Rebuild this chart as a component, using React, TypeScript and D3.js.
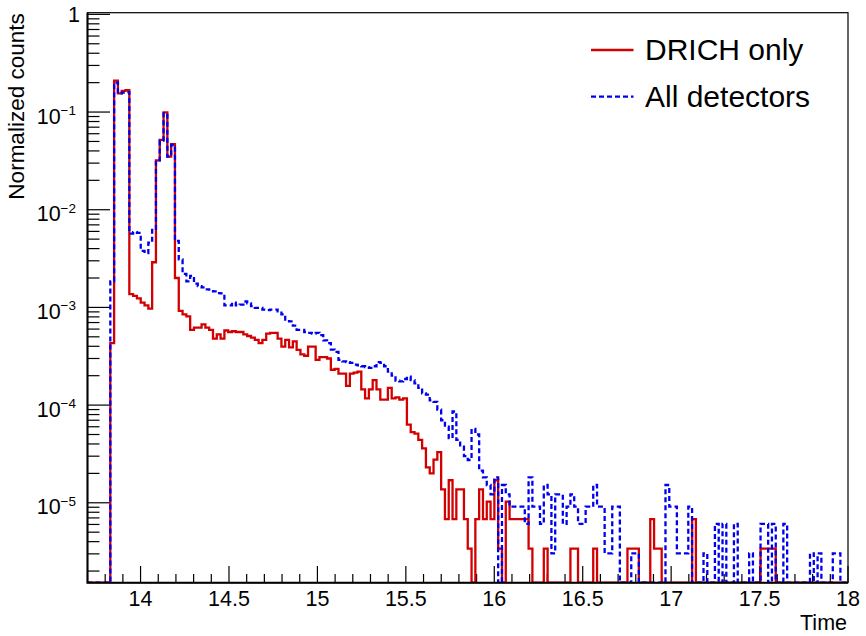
import * as d3 from "d3";
import { useEffect, useRef } from "react";

const W = 866;
const H = 636;
const frame = { left: 87.5, right: 848, top: 12.7, bottom: 582.7 };

// histogram binning (200 bins over the axis range)
const histLow = 13.7;
const histHigh = 18;
const nBins = 200;
const yLow = 1.52e-6;
const yHigh = 1.04;

const xMajorTicks = [14, 14.5, 15, 15.5, 16, 16.5, 17, 17.5, 18];
const xTickLabels = ["14", "14.5", "15", "15.5", "16", "16.5", "17", "17.5", "18"];
const yDecades = [1, 1e-1, 1e-2, 1e-3, 1e-4, 1e-5];
const yDecadeBase = ["1", "10", "10", "10", "10", "10"];
const yDecadeExp = ["", "−1", "−2", "−3", "−4", "−5"];

const seriesNames = ["DRICH only", "All detectors"];

// normalized counts per bin
const drichOnly = [
  0, 0, 0, 0, 0, 0, 4.3e-4, 0.21, 0.155, 0.165,
  0.168, 1.37e-3, 1.31e-3, 1.24e-3, 1.12e-3, 1.05e-3, 9.7e-4, 2.9e-3, 0.032, 0.052,
  0.099, 0.035, 0.047, 2.0e-3, 9.2e-4, 8.5e-4, 8.1e-4, 5.9e-4, 6.2e-4, 6.2e-4,
  6.7e-4, 6.2e-4, 5.9e-4, 4.8e-4, 5.3e-4, 4.8e-4, 5.8e-4, 5.6e-4, 5.7e-4, 5.6e-4,
  5.6e-4, 5.3e-4, 5.1e-4, 4.9e-4, 4.65e-4, 4.3e-4, 4.65e-4, 5.4e-4, 5.5e-4, 5.5e-4,
  4.8e-4, 3.96e-4, 4.65e-4, 3.9e-4, 4.5e-4, 3.67e-4, 3.3e-4, 3.2e-4, 3.96e-4, 3.96e-4,
  2.9e-4, 3.1e-4, 3.1e-4, 3.0e-4, 2.3e-4, 2.35e-4, 2.1e-4, 2.1e-4, 1.57e-4, 2.1e-4,
  2.15e-4, 2.2e-4, 1.45e-4, 1.17e-4, 1.45e-4, 1.8e-4, 1.45e-4, 1.14e-4, 1.14e-4, 1.5e-4,
  1.17e-4, 1.2e-4, 1.14e-4, 1.17e-4, 6.3e-5, 5.3e-5, 5.1e-5, 4.4e-5, 3.6e-5, 2.3e-5,
  2.0e-5, 2.76e-5, 3.3e-5, 1.37e-5, 6.8e-6, 1.7e-5, 6.8e-6, 1.37e-5, 1.37e-5, 6.8e-6,
  3.4e-6, 0, 6.8e-6, 1.37e-5, 6.8e-6, 1.03e-5, 6.8e-6, 1.7e-5, 3.4e-6, 0,
  1.03e-5, 6.8e-6, 6.8e-6, 6.8e-6, 6.8e-6, 6.8e-6, 3.4e-6, 0, 0, 0,
  3.4e-6, 0, 0, 0, 0, 0, 0, 3.4e-6, 3.4e-6, 0,
  0, 0, 0, 3.4e-6, 0, 0, 0, 0, 0, 0,
  0, 0, 3.4e-6, 3.4e-6, 3.4e-6, 0, 0, 0, 6.8e-6, 3.4e-6,
  3.4e-6, 0, 0, 0, 0, 0, 0, 0, 0, 6.8e-6,
  0, 0, 0, 0, 0, 0, 0, 0, 0, 0,
  0, 0, 0, 0, 0, 0, 0, 3.4e-6, 3.4e-6, 3.4e-6,
  3.4e-6, 0, 0, 0, 0, 0, 0, 0, 0, 0,
  0, 0, 0, 0, 0, 0, 0, 0, 0, 0,
];

const allDetectors = [
  0, 0, 0, 0, 0, 0, 1.85e-3, 0.2, 0.155, 0.158,
  0.16, 5.7e-3, 5.9e-3, 5.8e-3, 3.8e-3, 3.6e-3, 4.6e-3, 6.2e-3, 0.032, 0.051,
  0.097, 0.035, 0.046, 4.8e-3, 3.1e-3, 2.2e-3, 1.85e-3, 2.1e-3, 1.75e-3, 1.65e-3,
  1.6e-3, 1.53e-3, 1.47e-3, 1.46e-3, 1.4e-3, 1.39e-3, 1.05e-3, 1.05e-3, 1.12e-3, 1.05e-3,
  1.07e-3, 1.15e-3, 1.1e-3, 1.03e-3, 9.9e-4, 9.9e-4, 9.5e-4, 9.4e-4, 9.5e-4, 9.5e-4,
  9.1e-4, 8.5e-4, 7.5e-4, 7.2e-4, 6.5e-4, 5.9e-4, 5.9e-4, 5.6e-4, 5.5e-4, 5.4e-4,
  5.5e-4, 5.2e-4, 4.6e-4, 4.3e-4, 3.7e-4, 3.5e-4, 2.9e-4, 2.8e-4, 2.75e-4, 2.7e-4,
  2.6e-4, 2.55e-4, 2.5e-4, 2.45e-4, 2.4e-4, 2.5e-4, 2.75e-4, 2.7e-4, 2.5e-4, 2.2e-4,
  2.0e-4, 1.78e-4, 1.75e-4, 1.85e-4, 1.95e-4, 1.8e-4, 1.67e-4, 1.5e-4, 1.32e-4, 1.28e-4,
  1.12e-4, 1.08e-4, 9.0e-5, 7.0e-5, 6.0e-5, 4.6e-5, 8.6e-5, 4.4e-5, 3.75e-5, 3.0e-5,
  2.74e-5, 5.7e-5, 5.0e-5, 2.13e-5, 1.82e-5, 1.52e-5, 1.22e-5, 1.82e-5, 0, 1.52e-5,
  1.22e-5, 9.12e-6, 9.12e-6, 9.12e-6, 9.12e-6, 6.08e-6, 1.82e-5, 9.12e-6, 9.12e-6, 6.08e-6,
  1.52e-5, 1.22e-5, 3.04e-6, 1.22e-5, 1.22e-5, 6.08e-6, 9.12e-6, 1.22e-5, 9.12e-6, 6.08e-6,
  6.08e-6, 9.12e-6, 9.12e-6, 1.52e-5, 9.12e-6, 9.12e-6, 3.04e-6, 3.04e-6, 9.12e-6, 9.12e-6,
  0, 0, 0, 3.04e-6, 3.04e-6, 0, 0, 0, 0, 0,
  0, 0, 1.52e-5, 9.12e-6, 9.12e-6, 3.04e-6, 3.04e-6, 3.04e-6, 9.12e-6, 0,
  0, 0, 3.04e-6, 0, 0, 6.08e-6, 0, 6.08e-6, 0, 0,
  6.08e-6, 0, 0, 0, 3.04e-6, 0, 0, 6.08e-6, 6.08e-6, 0,
  6.08e-6, 0, 0, 6.08e-6, 0, 0, 0, 0, 0, 0,
  3.04e-6, 0, 3.04e-6, 0, 0, 0, 3.04e-6, 3.04e-6, 0, 0,
];

const FONT = "'Liberation Sans', Arial, Helvetica, sans-serif";
const RED = "#d20000";
const BLUE = "#0000f0";

const App = () => {
  const svgRef = useRef<SVGSVGElement | null>(null);

  useEffect(() => {
    const svg = d3.select(svgRef.current);
    svg.selectAll("*").remove();

    const x = d3.scaleLinear().domain([histLow, histHigh]).range([frame.left, frame.right]);
    const y = d3.scaleLog().domain([yLow, yHigh]).range([frame.bottom, frame.top]);
    const binW = (histHigh - histLow) / nBins;

    svg
      .append("rect")
      .attr("width", W)
      .attr("height", H)
      .attr("fill", "white");

    svg
      .append("clipPath")
      .attr("id", "frame-clip")
      .append("rect")
      .attr("x", frame.left)
      .attr("y", frame.top)
      .attr("width", frame.right - frame.left)
      .attr("height", frame.bottom - frame.top);

    // ---- y axis ticks (inside) ----
    const yMinor: number[] = [];
    for (let e = -6; e <= 0; e++) {
      for (let m = 2; m <= 9; m++) {
        const v = m * Math.pow(10, e);
        if (v > yLow && v < yHigh) yMinor.push(v);
      }
    }
    const axes = svg.append("g").attr("stroke", "black").attr("stroke-width", 1.2);
    axes
      .selectAll("line.ymin")
      .data(yMinor)
      .join("line")
      .attr("class", "ymin")
      .attr("x1", frame.left)
      .attr("x2", frame.left + 12)
      .attr("y1", (d) => y(d))
      .attr("y2", (d) => y(d));
    axes
      .selectAll("line.ymaj")
      .data(yDecades)
      .join("line")
      .attr("class", "ymaj")
      .attr("x1", frame.left)
      .attr("x2", frame.left + 22.5)
      .attr("y1", (d) => y(d))
      .attr("y2", (d) => y(d));

    // ---- x axis ticks (inside) ----
    const xMinor = d3
      .range(137, 181)
      .map((i) => i / 10)
      .filter((v) => !xMajorTicks.some((t) => Math.abs(t - v) < 1e-6));
    axes
      .selectAll("line.xmin")
      .data(xMinor)
      .join("line")
      .attr("class", "xmin")
      .attr("x1", (d) => x(d))
      .attr("x2", (d) => x(d))
      .attr("y1", frame.bottom)
      .attr("y2", frame.bottom - 8.7);
    axes
      .selectAll("line.xmaj")
      .data(xMajorTicks)
      .join("line")
      .attr("class", "xmaj")
      .attr("x1", (d) => x(d))
      .attr("x2", (d) => x(d))
      .attr("y1", frame.bottom)
      .attr("y2", frame.bottom - 16.7);

    // ---- histograms ----
    const stepLine = d3
      .line<[number, number]>()
      .x((d) => x(d[0]))
      .y((d) => (d[1] > 0 ? y(d[1]) : frame.bottom))
      .curve(d3.curveStepAfter);
    const toPoints = (vals: number[]): [number, number][] => {
      const pts: [number, number][] = vals.map((v, i) => [histLow + i * binW, v]);
      pts.push([histHigh, vals[vals.length - 1]]);
      return pts;
    };

    const plot = svg.append("g").attr("clip-path", "url(#frame-clip)");
    plot
      .append("path")
      .attr("d", stepLine(toPoints(drichOnly)))
      .attr("fill", "none")
      .attr("stroke", RED)
      .attr("stroke-width", 2.3)
      .attr("stroke-linejoin", "miter");
    plot
      .append("path")
      .attr("d", stepLine(toPoints(allDetectors)))
      .attr("fill", "none")
      .attr("stroke", BLUE)
      .attr("stroke-width", 2.3)
      .attr("stroke-dasharray", "5,3");

    // ---- frame ----
    svg
      .append("rect")
      .attr("x", frame.left)
      .attr("y", frame.top)
      .attr("width", frame.right - frame.left)
      .attr("height", frame.bottom - frame.top)
      .attr("fill", "none")
      .attr("stroke", "black")
      .attr("stroke-width", 1.2);
    svg
      .append("path")
      .attr("d", `M${frame.left},${frame.top}V${frame.bottom}H${frame.right}`)
      .attr("fill", "none")
      .attr("stroke", "black")
      .attr("stroke-width", 2);

    // ---- labels ----
    const labels = svg.append("g").attr("font-family", FONT).attr("fill", "black");
    labels
      .selectAll("text.xl")
      .data(xMajorTicks)
      .join("text")
      .attr("class", "xl")
      .attr("x", (d) => x(d))
      .attr("y", 606)
      .attr("text-anchor", "middle")
      .attr("font-size", 21.5)
      .text((_, i) => xTickLabels[i]);

    yDecades.forEach((v, i) => {
      const t = labels
        .append("text")
        .attr("text-anchor", "end")
        .attr("font-size", 21.5);
      if (yDecadeExp[i] === "") {
        t.attr("x", 80).attr("y", y(v) + 8).text(yDecadeBase[i]);
      } else {
        t.attr("x", 76).attr("y", y(v) + 11.5);
        t.append("tspan").text(yDecadeBase[i]);
        t.append("tspan").attr("font-size", 13.5).attr("dy", -8.5).text(yDecadeExp[i]);
      }
    });

    labels
      .append("text")
      .attr("transform", `translate(24,${frame.top + 0.6}) rotate(-90)`)
      .attr("text-anchor", "end")
      .attr("font-size", 22.5)
      .text("Normalized counts");

    labels
      .append("text")
      .attr("x", 847)
      .attr("y", 630)
      .attr("text-anchor", "end")
      .attr("font-size", 21.5)
      .text("Time");

    // ---- legend ----
    const legend = svg.append("g");
    const entries = [
      { name: seriesNames[0], color: RED, dash: null as string | null, ly: 50, ty: 60 },
      { name: seriesNames[1], color: BLUE, dash: "5,3" as string | null, ly: 96.7, ty: 106.7 },
    ];
    entries.forEach((e) => {
      legend
        .append("line")
        .attr("x1", 591)
        .attr("x2", 633.5)
        .attr("y1", e.ly)
        .attr("y2", e.ly)
        .attr("stroke", e.color)
        .attr("stroke-width", 2.3)
        .attr("stroke-dasharray", e.dash);
      legend
        .append("text")
        .attr("x", 645)
        .attr("y", e.ty)
        .attr("font-family", FONT)
        .attr("font-size", 30)
        .text(e.name);
    });
  }, []);

  return (
    <svg
      ref={svgRef}
      width={W}
      height={H}
      style={{ position: "absolute", left: 0, top: 0, display: "block" }}
    />
  );
};

export default App;
